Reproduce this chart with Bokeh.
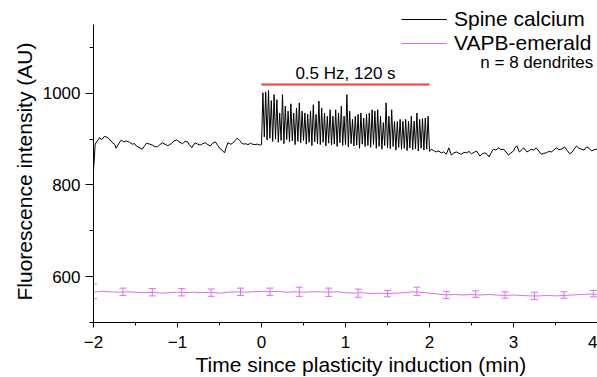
import numpy as np
from bokeh.plotting import figure
from bokeh.models import (FixedTicker, Legend, LegendItem, Whisker, Label,
                          TeeHead, ColumnDataSource, Range1d, Title)
from bokeh.embed import file_html
from bokeh.resources import INLINE

FONT = "Liberation Sans"

# ---------------- data ----------------
# Spine calcium, baseline before induction (time in min, AU)
pre_t = [-2.00, -1.98, -1.95, -1.93, -1.90, -1.87, -1.84, -1.81, -1.78, -1.75,
         -1.73, -1.70, -1.67, -1.64, -1.61, -1.57, -1.54, -1.51, -1.49, -1.46,
         -1.42, -1.39, -1.37, -1.33, -1.30, -1.27, -1.24, -1.21, -1.18, -1.15,
         -1.12, -1.10, -1.07, -1.04, -1.01, -0.98, -0.94, -0.91, -0.88, -0.86,
         -0.83, -0.81, -0.79, -0.76, -0.73, -0.70, -0.67, -0.64, -0.61, -0.58,
         -0.55, -0.52, -0.50, -0.47, -0.44, -0.42, -0.40, -0.37, -0.35, -0.32,
         -0.29, -0.26, -0.24, -0.21, -0.19, -0.16, -0.13, -0.11, -0.08, -0.05,
         -0.02, 0.00]
pre_v = [830, 889, 897, 903, 899, 906, 904, 900, 893, 889,
         880, 890, 898, 894, 896, 893, 889, 890, 885, 882,
         878, 886, 891, 889, 887, 884, 883, 888, 892, 889,
         886, 887, 891, 896, 898, 894, 890, 895, 894, 888,
         881, 887, 892, 889, 887, 890, 892, 888, 885, 891,
         894, 886, 880, 876, 870, 882, 892, 889, 890, 896,
         902, 897, 892, 889, 890, 888, 891, 889, 888, 889,
         887, 888]

# Stimulation 0.5 Hz for 120 s: one peak and one trough per 2 s
stim_peaks = [1001, 1003, 1006, 984, 997, 986, 957, 997, 972, 961,
              977, 957, 968, 979, 961, 957, 954, 961, 975, 954,
              983, 968, 957, 950, 964, 950, 964, 957, 972, 950,
              997, 961, 943, 950, 954, 957, 946, 954, 957, 964,
              961, 964, 950, 936, 979, 950, 964, 939, 938, 943,
              939, 943, 939, 950, 939, 957, 943, 945, 946, 950]
stim_troughs = [905, 898, 902, 895, 900, 893, 897, 890, 899, 894,
                896, 888, 895, 892, 897, 889, 893, 886, 894, 890,
                888, 893, 885, 891, 887, 889, 884, 892, 886, 888,
                883, 890, 885, 887, 880, 889, 884, 886, 882, 888,
                880, 884, 878, 886, 881, 879, 884, 876, 882, 878,
                880, 875, 881, 877, 879, 874, 880, 876, 878, 873]

# After induction
post_t = [2.02, 2.05, 2.08, 2.11, 2.14, 2.17, 2.20, 2.23, 2.26, 2.29,
          2.32, 2.35, 2.38, 2.41, 2.44, 2.47, 2.50, 2.53, 2.56, 2.60,
          2.63, 2.66, 2.69, 2.71, 2.73, 2.76, 2.79, 2.82, 2.85, 2.88,
          2.91, 2.94, 2.97, 3.00, 3.02, 3.04, 3.07, 3.10, 3.12, 3.16,
          3.19, 3.21, 3.24, 3.27, 3.30, 3.33, 3.36, 3.39, 3.42, 3.45,
          3.48, 3.51, 3.54, 3.57, 3.61, 3.64, 3.67, 3.70, 3.72, 3.75,
          3.78, 3.81, 3.84, 3.87, 3.90, 3.93, 3.96, 3.99, 4.00]
post_v = [878, 875, 872, 874, 870, 872, 867, 881, 865, 870,
          872, 869, 867, 871, 870, 873, 868, 871, 874, 863,
          868, 870, 866, 861, 869, 878, 876, 881, 877, 878,
          872, 865, 870, 874, 882, 885, 872, 877, 881, 872,
          875, 878, 876, 881, 874, 867, 869, 870, 873, 872,
          876, 881, 877, 878, 883, 875, 868, 872, 878, 885,
          880, 878, 876, 883, 880, 874, 877, 878, 877]

# VAPB-emerald (every 0.1 min)
vapb_t = [round(-2.0 + 0.1 * i, 2) for i in range(61)]
vapb_v = [566, 568, 567, 566, 567, 566, 565, 566, 564, 565,
          566, 565, 566, 565, 566, 564, 566, 567, 566, 567,
          568, 567, 568, 566, 567, 566, 567, 567, 566, 567,
          565, 564, 565, 563, 564, 563, 564, 565, 567, 566,
          564, 562, 560, 561, 560, 561, 560, 561, 560, 559,
          560, 559, 558, 558, 559, 558, 559, 560, 561, 562, 561]

# VAPB error bars
err_t = [-2.0, -1.65, -1.3, -0.95, -0.6, -0.25, 0.1, 0.45, 0.8, 1.15,
         1.5, 1.85, 2.2, 2.55, 2.9, 3.25, 3.6, 3.95]
err_mean = [568, 567, 566, 566, 565, 567, 567, 567, 566, 564,
            563, 568, 560, 562, 560, 558, 560, 563]
err_sem = [16, 8, 8, 8, 8, 8, 8, 10, 9, 9,
           7, 9, 8, 7, 7, 8, 7, 7]

stim_start, stim_end, stim_level = 0.0, 2.0, 1019

x_ticks = [-2, -1, 0, 1, 2, 3, 4]
x_minor = [-1.5, -0.5, 0.5, 1.5, 2.5, 3.5]
y_ticks = [600, 800, 1000]
y_minor = [500, 700, 900, 1100]
y_axis_min, y_axis_max = 500, 1150

x_title = "Time since plasticity induction (min)"
y_title = "Fluorescence intensity (AU)"

# ---------------- assemble trace ----------------
n = len(stim_peaks)
stim_t = []
stim_v = []
for k in range(n):
    stim_t += [(2 * k + 1) / 60.0, (2 * k + 2) / 60.0]
    stim_v += [stim_peaks[k], stim_troughs[k]]
ca_t = pre_t + stim_t + post_t
ca_v = pre_v + stim_v + post_v

# ---------------- figure ----------------
p = figure(width=597, height=377, output_backend="svg", toolbar_location=None,
           x_range=Range1d(-2, 4), y_range=Range1d(y_axis_min, 1202.3),
           min_border_left=93, min_border_right=0, min_border_top=0,
           min_border_bottom=55)
p.outline_line_color = None
p.grid.visible = False
p.background_fill_color = "white"

MAG = "#da70f0"

ca = p.line(ca_t, ca_v, line_color="black", line_width=1)
vp = p.line(vapb_t, vapb_v, line_color=MAG, line_width=1)

esrc = ColumnDataSource(dict(
    t=err_t,
    lo=[m - e for m, e in zip(err_mean, err_sem)],
    hi=[m + e for m, e in zip(err_mean, err_sem)]))
wh = Whisker(source=esrc, base="t", lower="lo", upper="hi", dimension="height",
             line_color=MAG, line_width=1,
             lower_head=TeeHead(size=7, line_color=MAG, line_width=1),
             upper_head=TeeHead(size=7, line_color=MAG, line_width=1))
p.add_layout(wh)

p.line([stim_start, stim_end], [stim_level, stim_level], line_color="#f23a3a",
       line_width=2)

p.add_layout(Label(x=1.0, y=1044, text="0.5 Hz, 120 s", text_align="center",
                   text_baseline="alphabetic", text_font=FONT,
                   text_font_size="17px", text_color="black"))
p.add_layout(Label(x=3.95, y=1067, text="n = 8 dendrites", text_align="right",
                   text_baseline="alphabetic", text_font=FONT,
                   text_font_size="17px", text_color="black"))

# axes
xa = p.xaxis[0]
xa.ticker = FixedTicker(ticks=x_ticks, minor_ticks=x_minor)
xa.major_label_overrides = {t: (("\u2212" + str(-t)) if t < 0 else str(t)) for t in x_ticks}
ya = p.yaxis[0]
ya.ticker = FixedTicker(ticks=y_ticks, minor_ticks=y_minor)
ya.bounds = (y_axis_min, y_axis_max)

for ax in (xa, ya):
    ax.axis_line_color = "black"
    ax.major_tick_line_color = "black"
    ax.minor_tick_line_color = "black"
    ax.major_tick_in = 0
    ax.minor_tick_in = 0
    ax.major_label_text_font = FONT
    ax.major_label_text_font_size = "17px"
    ax.major_label_text_color = "black"
xa.major_tick_out = 5
xa.minor_tick_out = 3
xa.major_label_standoff = 8
ya.major_tick_out = 8
ya.minor_tick_out = 4
ya.major_label_standoff = 5

# axis titles as side-panel titles, offset like in the reference
p.add_layout(Title(text=x_title, align="left", offset=102, standoff=0,
                   vertical_align="bottom", text_font=FONT,
                   text_font_size="21px", text_font_style="normal",
                   text_color="black"), "below")
p.add_layout(Title(text=y_title, align="left", offset=22, standoff=8,
                   vertical_align="bottom", text_font=FONT,
                   text_font_size="21px", text_font_style="normal",
                   text_color="black"), "left")

legend = Legend(items=[LegendItem(label="Spine calcium", renderers=[ca]),
                       LegendItem(label="VAPB-emerald", renderers=[vp])],
                location=(308, 267), glyph_width=46, glyph_height=20,
                label_height=20, label_standoff=7, spacing=0, padding=0,
                margin=0, border_line_color=None, background_fill_alpha=0,
                label_text_font=FONT, label_text_font_size="21px",
                label_text_color="black")
p.add_layout(legend, "center")

open("out.html", "w").write(file_html(p, INLINE))
